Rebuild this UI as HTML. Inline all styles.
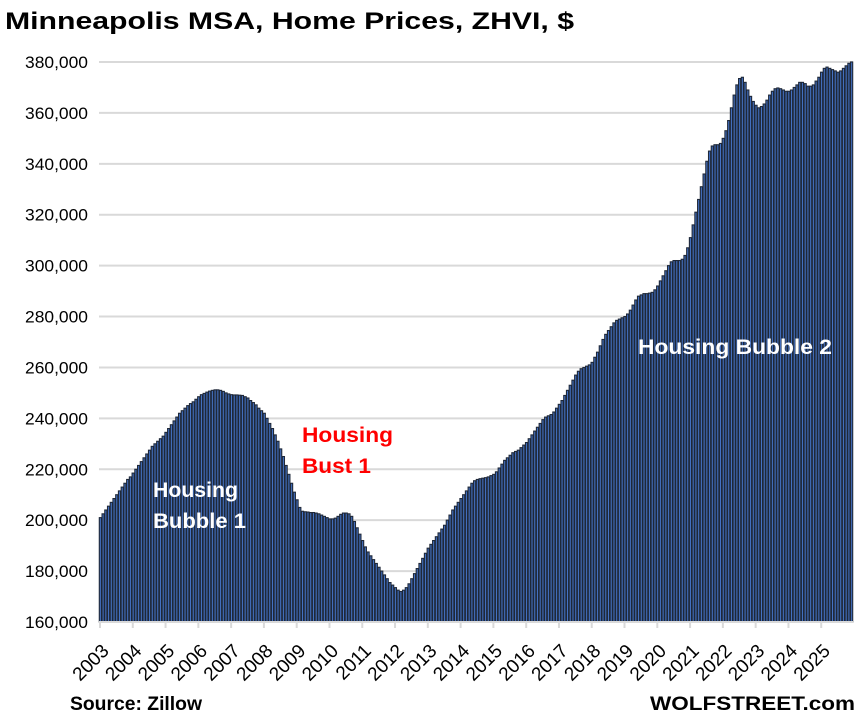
<!DOCTYPE html>
<html><head><meta charset="utf-8"><style>
body{margin:0;background:#fff;}
svg text{font-family:"Liberation Sans",Arial,sans-serif;}
</style></head><body>
<svg id="chart" width="864" height="718" xmlns="http://www.w3.org/2000/svg">
<text x="5" y="29" font-size="24" font-weight="bold" fill="#000" textLength="569" lengthAdjust="spacingAndGlyphs">Minneapolis  MSA, Home Prices, ZHVI, $</text>
<g id="grid"></g><g id="bars"></g><g id="xaxis"></g><g id="yaxis"></g>
<text x="153" y="497" font-size="21" font-weight="bold" fill="#fff" textLength="85" lengthAdjust="spacingAndGlyphs">Housing</text>
<text x="153" y="528" font-size="21" font-weight="bold" fill="#fff" textLength="93" lengthAdjust="spacingAndGlyphs">Bubble 1</text>
<text x="302" y="442" font-size="21" font-weight="bold" fill="#ff0000" textLength="91" lengthAdjust="spacingAndGlyphs">Housing</text>
<text x="302" y="473" font-size="21" font-weight="bold" fill="#ff0000" textLength="69" lengthAdjust="spacingAndGlyphs">Bust 1</text>
<text x="638" y="354" font-size="21" font-weight="bold" fill="#fff" textLength="194" lengthAdjust="spacingAndGlyphs">Housing Bubble 2</text>
<text x="70" y="710" font-size="19" font-weight="bold" fill="#000" textLength="132" lengthAdjust="spacingAndGlyphs">Source: Zillow</text>
<text x="650" y="710" font-size="19" font-weight="bold" fill="#000" textLength="205" lengthAdjust="spacingAndGlyphs">WOLFSTREET.com</text>
</svg>
<script>
const years=[2003,2004,2005,2006,2007,2008,2009,2010,2011,2012,2013,2014,2015,2016,2017,2018,2019,2020,2021,2022,2023,2024,2025];
const yTicks=[160000,180000,200000,220000,240000,260000,280000,300000,320000,340000,360000,380000];
const prices=[
201,202.5,204,205.5,207,208.5,210,211.5,213,214.5,216,217,
218.5,220,221.5,223,224.5,226,227.5,229,230,231,232,233,
234.5,236,237.5,239,240.5,242,243,244,245,245.8,246.5,247.5,
248.5,249.3,249.8,250.3,250.7,251,251.2,251.2,251,250.6,250,249.6,
249.3,249.2,249.2,249.1,249,248.5,248,247,246.2,245.3,244,243,
242,240,238,236,233.5,231,228,225,221.5,218,214.5,211,
208,205,203.5,203.3,203.2,203,203,202.8,202.5,202,201.5,201,
200.5,200.5,200.8,201.5,202.3,202.8,202.8,202.5,201.5,199.5,197,194.5,
192,189.5,187.5,186,184.5,183,181.5,180,178.5,177,175.5,174.5,
173.5,172.5,172,172.5,173.5,175,177,179,181,183,185,187,
189,190.5,192,193.5,195,196.5,198,200,202,204,205.5,207,
208.5,210,211.5,213,214.5,215.5,216,216.3,216.5,216.7,217,217.5,
218,219,220.5,222,223.5,224.5,225.5,226.5,227,227.5,228.5,229.5,
230.5,232,233.5,235,236.5,238,239.5,240.5,241,241.5,242.5,244,
245.5,247,249,251,253,255,257,258.5,259.5,260,260.5,261,
262,264,266,268.5,271,273,274.5,276,277.5,278.5,279,279.5,
280,281,282.5,284.5,286.5,288,288.5,289,289,289.2,289.5,290.5,
292,294,296,298,300,301.5,302,302,302,302.5,304,307,
311,316,321,326,331,336,341,345,347,347.5,347.5,348,
350,353,357,362,367,371,373.5,374,372,369,366.5,364.5,
363,362,362.5,363.5,365,367,368.5,369.5,369.8,369.5,369,368.5,
368.5,369,370,371,372,372,371.5,370.5,370.5,371,372.5,374,
376,377.5,378,377.5,377,376.5,376,376.5,377.5,378.5,379.5,380];
const NS="http://www.w3.org/2000/svg";
const X0=99,X1=853,Y0=622,Y1=62,VMIN=160000,VMAX=380000;
const n=prices.length,bw=(X1-X0)/n;
function xPos(i){return X0+i*bw;}
function yPos(v){return Y0-(v-VMIN)/(VMAX-VMIN)*(Y0-Y1);}
function mk(tag,attrs,parent){const e=document.createElementNS(NS,tag);for(const k in attrs)e.setAttribute(k,attrs[k]);parent.appendChild(e);return e;}
const grid=document.getElementById('grid'),yaxis=document.getElementById('yaxis');
yTicks.forEach(t=>{
 const l=mk('line',{x1:X0,x2:X1,y1:yPos(t),y2:yPos(t),stroke:'#d9d9d9','stroke-width':2},grid);
 
 
 const tx=mk('text',{x:88,y:yPos(t)+6,'font-size':17,'text-anchor':'end',fill:'#000',textLength:63,lengthAdjust:'spacingAndGlyphs'},yaxis);
 tx.textContent=t.toLocaleString('en-US');
 
 
});
const bars=document.getElementById('bars');
prices.forEach((p,i)=>{
 const y=yPos(p*1000);
 const r=mk('rect',{x:xPos(i)+0.3,y:y,width:bw-0.6,height:Y0-y,fill:'#4472c4',stroke:'#1f2838','stroke-width':1.1},bars);
 
 
});
const xa=document.getElementById('xaxis');
const ax=mk('line',{x1:X0,x2:X1,y1:Y0,y2:Y0,stroke:'#d9d9d9','stroke-width':2},xa);


years.forEach((yr,k)=>{
 const x=xPos(k*12)+1;
 const tk=mk('line',{x1:x,x2:x,y1:Y0,y2:Y0+6,stroke:'#d9d9d9','stroke-width':2},xa);
 
 
 const ax0=x+10,ay0=Y0+30;
 const t=mk('text',{x:ax0,y:ay0,'font-size':19,'text-anchor':'end',fill:'#000',transform:'rotate(-45 '+ax0+' '+ay0+')'},xa);
 t.textContent=yr;
 
 
});
</script>
</body></html>
